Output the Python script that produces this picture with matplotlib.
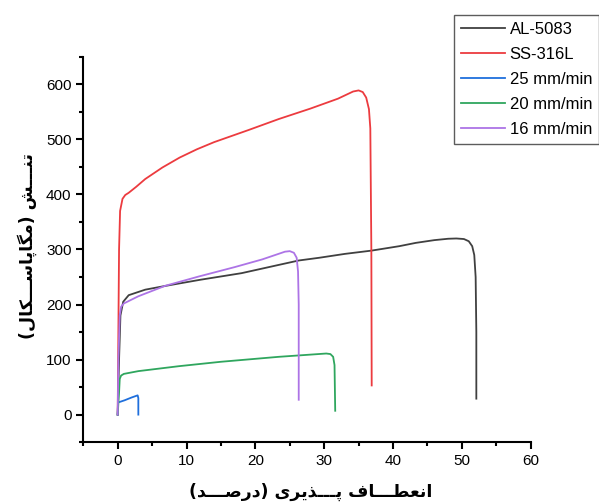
import numpy as np
import matplotlib
matplotlib.use('Agg')
import matplotlib.pyplot as plt
from matplotlib.ticker import MultipleLocator

# strain (%) / stress (MPa)
al_x = [0, 0.2, 0.4, 0.8, 1.6, 4, 7, 12, 18, 23.4, 26.3, 29.3, 33, 36.9, 40.9, 43.3, 46, 48, 49.2, 50.3, 51.0, 51.5, 51.8, 52.0, 52.1, 52.1]
al_y = [0, 100, 180, 205, 217, 227, 234, 245, 257, 272, 280, 285, 292, 298, 306, 312, 317, 319.5, 320, 319, 315, 306, 290, 250, 150, 29]

ss_x = [0, 0.1, 0.2, 0.35, 0.7, 1.1, 1.6, 2.7, 4, 6.5, 9, 11.5, 14, 16.5, 19, 23.4, 28, 32, 34.2, 35.0, 35.6, 36.1, 36.5, 36.7, 36.85, 36.9]
ss_y = [0, 150, 300, 370, 392, 399, 403, 414, 428, 449, 467, 482, 495, 506, 517, 537, 556, 574, 587, 589, 586, 576, 555, 520, 300, 53]

v25_x = [0, 0.05, 1, 2, 2.9, 3.0, 3.0]
v25_y = [0, 22, 26, 31, 35, 30, 0]

v20_x = [0, 0.2, 0.3, 0.5, 0.9, 3, 8.9, 15, 23.4, 28, 30.3, 30.9, 31.3, 31.5, 31.6]
v20_y = [0, 40, 65, 71, 74, 79, 88, 96, 105, 109, 111, 110, 105, 90, 7]

v16_x = [0, 0.1, 0.3, 0.5, 0.9, 3, 6.9, 11.8, 17, 21, 24.3, 25.0, 25.6, 26.0, 26.2, 26.3, 26.3]
v16_y = [0, 100, 180, 196, 202, 215, 234, 251, 268, 282, 296, 297, 294, 285, 260, 200, 27]

labels = ['AL-5083', 'SS-316L', '25 mm/min', '20 mm/min', '16 mm/min']
colors = ['#404040', '#ec3b3f', '#1f6fdc', '#2fa65e', '#ad74e6']

# arabic letters -> (isolated, final, initial, medial)
FORMS = {
    'ا': ('\uFE8D', '\uFE8E', None, None),
    'د': ('\uFEA9', '\uFEAA', None, None),
    'ذ': ('\uFEAB', '\uFEAC', None, None),
    'ر': ('\uFEAD', '\uFEAE', None, None),
    'ت': ('\uFE95', '\uFE96', '\uFE97', '\uFE98'),
    'ن': ('\uFEE5', '\uFEE6', '\uFEE7', '\uFEE8'),
    'ش': ('\uFEB5', '\uFEB6', '\uFEB7', '\uFEB8'),
    'م': ('\uFEE1', '\uFEE2', '\uFEE3', '\uFEE4'),
    'س': ('\uFEB1', '\uFEB2', '\uFEB3', '\uFEB4'),
    'ل': ('\uFEDD', '\uFEDE', '\uFEDF', '\uFEE0'),
    'ع': ('\uFEC9', '\uFECA', '\uFECB', '\uFECC'),
    'ط': ('\uFEC1', '\uFEC2', '\uFEC3', '\uFEC4'),
    'ف': ('\uFED1', '\uFED2', '\uFED3', '\uFED4'),
    'ص': ('\uFEB9', '\uFEBA', '\uFEBB', '\uFEBC'),
    'پ': ('\uFB56', '\uFB57', '\uFB58', '\uFB59'),
    'گ': ('\uFB92', '\uFB93', '\uFB94', '\uFB95'),
    'ک': ('\uFB8E', '\uFB8F', '\uFB90', '\uFB91'),
    'ی': ('\uFBFC', '\uFBFD', '\uFBFE', '\uFBFF'),
    'ـ': ('ـ', 'ـ', 'ـ', 'ـ'),
}


def shape(text):
    out = []
    for i, ch in enumerate(text):
        if ch not in FORMS:
            out.append(ch)
            continue
        prev = text[i - 1] if i > 0 else ''
        nxt = text[i + 1] if i + 1 < len(text) else ''
        join_prev = prev in FORMS and FORMS[prev][2] is not None
        join_next = nxt in FORMS and FORMS[ch][2] is not None
        iso, fin, ini, med = FORMS[ch]
        if join_prev and join_next:
            out.append(med)
        elif join_prev:
            out.append(fin)
        elif join_next:
            out.append(ini)
        else:
            out.append(iso)
    vis = ''.join(reversed(out))
    return vis.translate(str.maketrans('()', ')('))


fig = plt.figure(figsize=(5.99, 5.03), dpi=100)
ax = fig.add_axes([0.139, 0.121, 0.747, 0.766])

series = [(al_x, al_y), (ss_x, ss_y), (v25_x, v25_y), (v20_x, v20_y), (v16_x, v16_y)]
for (x, y), lab, c in zip(series, labels, colors):
    ax.plot(x, y, color=c, lw=1.3, label=lab)

ax.set_xlim(-5, 60)
ax.set_ylim(-50, 650)
ax.xaxis.set_major_locator(MultipleLocator(10))
ax.xaxis.set_minor_locator(MultipleLocator(5))
ax.set_yticks([0, 100, 200, 300, 400, 500, 600])
ax.set_yticks(np.arange(-50, 651, 50), minor=True)

for s in ['top', 'right']:
    ax.spines[s].set_visible(False)
for s in ['left', 'bottom']:
    ax.spines[s].set_linewidth(1.5)
ax.tick_params(which='major', direction='out', length=5, width=1.5, labelsize=11)
ax.tick_params(which='minor', direction='out', length=3, width=1.5)
for t in ax.get_xticklabels() + ax.get_yticklabels():
    t.set_fontfamily('Liberation Sans')

fig.text(0.518, 0.022, shape('انعطـــاف پـــذیری (درصـــد)'), fontsize=12.5, fontweight='bold',
         family=['DejaVu Sans'], ha='center', va='center')
fig.text(0.045, 0.51, shape('تنـــش (مگاپاســـکال)'), fontsize=12.5, fontweight='bold',
         family=['DejaVu Sans'], ha='center', va='center', rotation=90)

leg = ax.legend(loc='upper left', bbox_to_anchor=(0.829, 1.109), frameon=True, fancybox=False,
                edgecolor='#333333', prop={'family': 'Liberation Sans', 'size': 12},
                handlelength=2.6, handletextpad=0.3, labelspacing=0.6, borderpad=0.42,
                borderaxespad=0)
leg.get_frame().set_linewidth(1.0)

plt.savefig('out.png', dpi=100)
